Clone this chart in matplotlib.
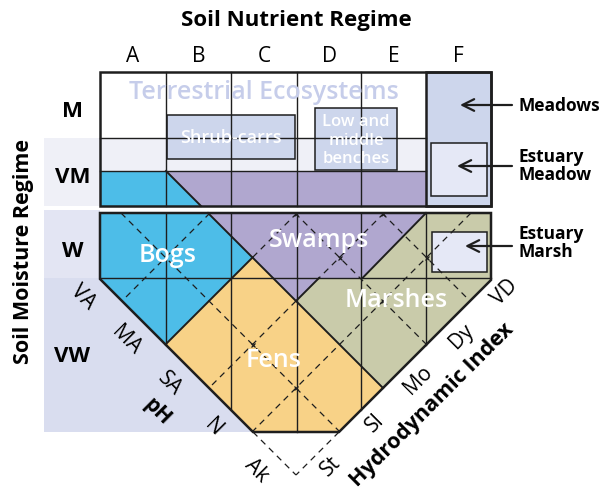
import matplotlib.pyplot as plt
from matplotlib.patches import Polygon, Rectangle

plt.rcParams['font.family'] = ['Open Sans', 'DejaVu Sans']

# class names on the four axes of the diagram
nutrient_labels = ['A', 'B', 'C', 'D', 'E', 'F']
moisture_labels = ['M', 'VM', 'W', 'VW']
ph_labels = ['VA', 'MA', 'SA', 'N', 'Ak']
hydro_labels = ['St', 'Sl', 'Mo', 'Dy', 'VD']
wetland_names = ['Bogs', 'Swamps', 'Fens', 'Marshes']

# layout, in pixels of the 605x496 image
col_edges = [100, 166, 231, 297, 361, 426, 491]
row_edges = [72, 138, 206]          # M / VM block
vm_band_top = 171
w_top, w_bot, vw_bot = 213, 278, 432
# rotated grid: pH class borders are lines x+y = s, hydrodynamic borders x-y = c
ph_lines = [336, 423, 510, 597, 684, 771]
hydro_lines = [-179, -92, -5, 82, 169, 256]
marks = [(3, 1), (4, 1), (3, 3), (4, 3), (4, 4), (3, 4), (2, 3)]

bog_c = '#4dbde8'
swamp_c = '#b0a7cf'
fen_c = '#f8d287'
marsh_c = '#c9cbaa'
meadow_c = '#cdd6ec'
estuary_c = '#e5e8f6'
ink = '#1e1e1e'


def pt(s, c):
    return ((s + c) / 2, (s - c) / 2)


def at_y_s(s, y):
    return (s - y, y)


def at_y_c(c, y):
    return (c + y, y)


P = ph_lines
H = hydro_lines
L1 = H[2]
s_mid = (P[3] + P[4]) / 2
x0, xE, x6 = col_edges[0], col_edges[5], col_edges[6]
vm_bot = row_edges[2]

fig = plt.figure(figsize=(6.05, 4.96), dpi=100)
ax = fig.add_axes([0, 0, 1, 1])
ax.set_xlim(0, 605)
ax.set_ylim(496, 0)
ax.axis('off')

# left side bands
ax.add_patch(Rectangle((44, row_edges[1]), x0 - 44, vm_bot - row_edges[1], fc='#eff0f7', ec='none'))
ax.add_patch(Rectangle((44, 210), x0 - 44, w_bot - 210, fc='#e3e5f3', ec='none'))
ax.add_patch(Polygon([(44, w_bot), (x0, w_bot), at_y_c(H[0], vw_bot), (44, vw_bot)],
                     fc='#d9ddef', ec='none'))

# M / VM block
ax.add_patch(Rectangle((x0, row_edges[0]), x6 - x0, vm_bot - row_edges[0], fc='white', ec='none'))
ax.add_patch(Rectangle((x0, row_edges[1]), xE - x0, vm_band_top - row_edges[1], fc='#eff0f7', ec='none'))
bog_vm = [(x0, vm_band_top), at_y_c(L1, vm_band_top), at_y_c(L1, vm_bot), (x0, vm_bot)]
swamp_vm = [at_y_c(L1, vm_band_top), (xE, vm_band_top), (xE, vm_bot), at_y_c(L1, vm_bot)]
ax.add_patch(Polygon(bog_vm, fc=bog_c, ec='none'))
ax.add_patch(Polygon(swamp_vm, fc=swamp_c, ec='none'))

# W / VW block
bog_w = [(x0, w_top), at_y_c(L1, w_top), pt(P[2], L1), pt(P[2], H[0]), (x0, x0 - H[0])]
swamp_w = [at_y_c(L1, w_top), (xE, w_top), at_y_s(s_mid, w_bot), at_y_s(P[3], w_bot), pt(P[3], L1)]
fen = [pt(P[2], L1), pt(P[5], L1), at_y_s(P[5], vw_bot), at_y_c(H[0], vw_bot), pt(P[2], H[0])]
marsh = [(xE, w_top), (x6, w_top), (x6, P[5] - x6), pt(P[5], L1), pt(P[3], L1),
         at_y_s(P[3], w_bot), at_y_s(s_mid, w_bot)]
for poly, col in [(bog_w, bog_c), (swamp_w, swamp_c), (fen, fen_c), (marsh, marsh_c)]:
    ax.add_patch(Polygon(poly, fc=col, ec='none'))

# grid lines
for x in col_edges[1:5]:
    ax.plot([x, x], [row_edges[0], vm_bot], color=ink, lw=1.0)
for y in [row_edges[1], vm_band_top]:
    ax.plot([x0, xE], [y, y], color=ink, lw=1.0)
for x in col_edges[1:6]:
    y_end = min(x - H[0], P[5] - x, vw_bot)
    ax.plot([x, x], [w_top, y_end], color=ink, lw=1.0)
ax.plot([x0, x6], [w_bot, w_bot], color=ink, lw=1.0)

# dashed pH / hydrodynamic grid
dashed = [
    (at_y_c(H[1], w_top), pt(P[5], H[1])),
    (at_y_c(H[3], w_top), pt(P[5], H[3])),
    (at_y_c(H[4], w_top), pt(P[5], H[4])),
    (at_y_c(H[0], vw_bot), pt(P[5], H[0])),
    (at_y_s(P[5], vw_bot), pt(P[5], H[0])),
    (at_y_s(P[1], w_top), pt(P[1], H[0])),
    (at_y_s(P[2], w_top), pt(P[2], L1)),
    (at_y_s(P[3], w_top), at_y_s(P[3], w_bot)),
    (pt(P[3], L1), pt(P[3], H[0])),
    (at_y_s(P[4], w_top), pt(P[4], H[0])),
]
for a, b in dashed:
    ax.plot([a[0], b[0]], [a[1], b[1]], color=ink, lw=0.9, linestyle=(0, (5, 4)))
for p, h in marks:
    mx, my = pt(P[p], H[h])
    ax.plot(mx, my, marker='x', ms=3.5, mew=0.9, color=ink)

# wetland boundaries
bounds = [
    (at_y_c(L1, vm_band_top), at_y_c(L1, vm_bot)),
    (at_y_c(L1, w_top), pt(P[5], L1)),
    (pt(P[2], L1), pt(P[2], H[0])),
    (at_y_s(P[3], w_bot), pt(P[3], L1)),
    ((xE, w_top), at_y_s(s_mid, w_bot)),
]
for a, b in bounds:
    ax.plot([a[0], b[0]], [a[1], b[1]], color=ink, lw=1.4)

# meadows column and boxes
ax.add_patch(Rectangle((xE, row_edges[0]), x6 - xE, vm_bot - row_edges[0], fc=meadow_c, ec=ink, lw=1.8))
ax.add_patch(Rectangle((431, 143), 56, 53, fc=estuary_c, ec=ink, lw=1.1))
ax.add_patch(Rectangle((432, 232), 55, 40, fc=estuary_c, ec=ink, lw=1.1))
ax.add_patch(Rectangle((167, 115), 128, 44, fc=meadow_c, ec=ink, lw=1.1))
ax.add_patch(Rectangle((315, 108), 82, 62, fc=meadow_c, ec=ink, lw=1.1))

# outer borders
ax.add_patch(Rectangle((x0, row_edges[0]), x6 - x0, vm_bot - row_edges[0], fc='none', ec=ink, lw=1.8))
octagon = [(x0, w_top), (x6, w_top), (x6, P[5] - x6), at_y_s(P[5], vw_bot),
           at_y_c(H[0], vw_bot), (x0, x0 - H[0])]
ax.add_patch(Polygon(octagon, fc='none', ec=ink, lw=1.8, joinstyle='miter'))

# texts
ax.text(296, 26, 'Soil Nutrient Regime', ha='center', va='baseline', fontsize=16, fontweight='bold')
for i, lab in enumerate(nutrient_labels):
    ax.text((col_edges[i] + col_edges[i + 1]) / 2, 62.5, lab, ha='center', va='baseline', fontsize=15)
for lab, yb in zip(moisture_labels, [117, 183, 257, 362]):
    ax.text(72.5, yb, lab, ha='center', va='baseline', fontsize=16, fontweight='bold')
ax.text(24, 251, 'Soil Moisture Regime', ha='center', va='center', rotation=90,
        fontsize=15.5, fontweight='bold')

ax.text(264, 99, 'Terrestrial Ecosystems', ha='center', va='baseline', fontsize=18,
        color='#c6cdea', fontweight='semibold')
ax.text(231, 142.7, 'Shrub-carrs', ha='center', va='baseline', fontsize=13, color='white',
        fontweight='semibold')
for line, yb in zip(['Low and', 'middle', 'benches'], [126, 145, 163]):
    ax.text(356, yb, line, ha='center', va='baseline', fontsize=12, color='white',
            fontweight='semibold')

for name, (xc, yb) in zip(wetland_names, [(167.5, 262), (319, 247), (274, 367), (396, 307)]):
    ax.text(xc, yb, name, ha='center', va='baseline', fontsize=18, color='white',
            fontweight='semibold')

ax.text(518, 110.7, 'Meadows', ha='left', va='baseline', fontsize=12.5, fontweight='bold')
ax.text(518, 161.7, 'Estuary', ha='left', va='baseline', fontsize=12.5, fontweight='bold')
ax.text(518, 180, 'Meadow', ha='left', va='baseline', fontsize=12.5, fontweight='bold')
ax.text(518, 239, 'Estuary', ha='left', va='baseline', fontsize=12.5, fontweight='bold')
ax.text(518, 257, 'Marsh', ha='left', va='baseline', fontsize=12.5, fontweight='bold')
for tip, y in [(460, 105), (457, 166), (465, 246)]:
    ax.annotate('', xy=(tip, y), xytext=(512, y),
                arrowprops=dict(arrowstyle='->,head_length=0.7,head_width=0.35', lw=1.6,
                                color=ink, shrinkA=0, shrinkB=0, mutation_scale=12))

for i, lab in enumerate(ph_labels):
    x, y = pt((P[i] + P[i + 1]) / 2, H[0] - 35)
    ax.text(x, y, lab, ha='center', va='center', rotation=-45, rotation_mode='anchor', fontsize=15)
for j, lab in enumerate(hydro_labels):
    x, y = pt(P[5] + 27, (H[j] + H[j + 1]) / 2)
    ax.text(x, y, lab, ha='center', va='center', rotation=45, rotation_mode='anchor', fontsize=15)
x, y = pt(569, -255)
ax.text(x, y, 'pH', ha='center', va='center', rotation=-45, rotation_mode='anchor',
        fontsize=15, fontweight='bold')
x, y = pt(838, 27)
ax.text(x, y, 'Hydrodynamic Index', ha='center', va='center', rotation=45, rotation_mode='anchor',
        fontsize=15.5, fontweight='bold')

fig.savefig('out.png', dpi=100)
